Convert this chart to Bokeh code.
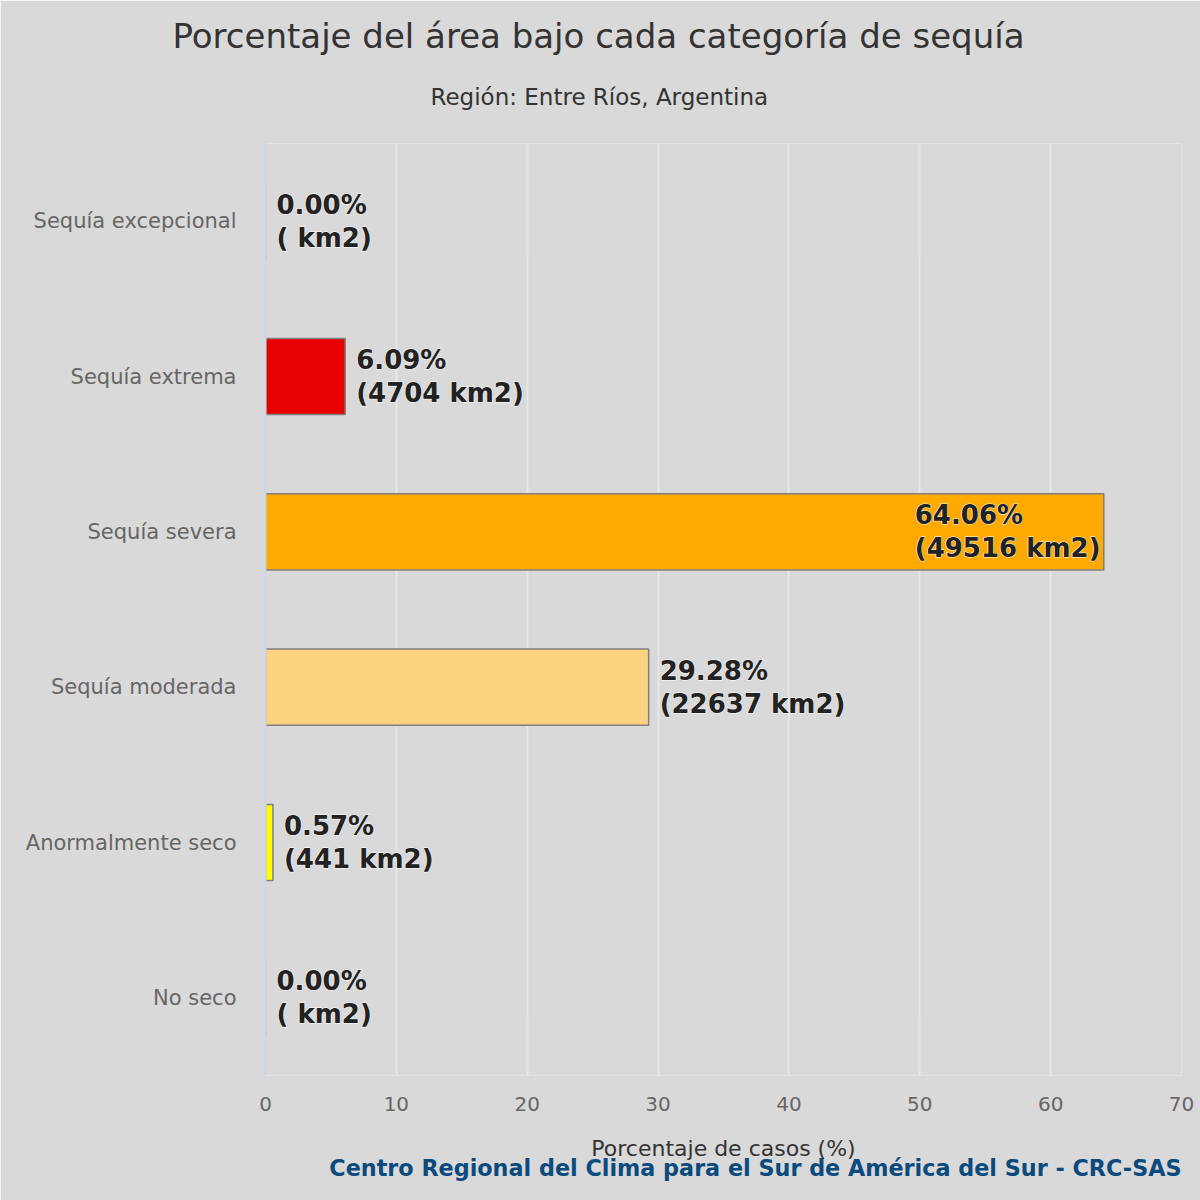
from bokeh.plotting import figure
from bokeh.models import ColumnDataSource, Title, FixedTicker, Range1d, FactorRange
from bokeh.core.properties import value
from bokeh.embed import file_html
from bokeh.resources import INLINE

categories = ["Sequía excepcional", "Sequía extrema", "Sequía severa",
              "Sequía moderada", "Anormalmente seco", "No seco"]
percent = [0.00, 6.09, 64.06, 29.28, 0.57, 0.00]
area_km2 = ["", "4704", "49516", "22637", "441", ""]
colors = ["#730000", "#e60000", "#ffaa00", "#fcd37f", "#ffff00", "#ffffff"]
x_ticks = [0, 10, 20, 30, 40, 50, 60, 70]

FONT = "DejaVu Sans"
BG = "#d9d9d9"

labels = [f"{p:.2f}%\n({a} km2)" for p, a in zip(percent, area_km2)]
x_max = x_ticks[-1]
inside = [p > x_max - 15 for p in percent]

src_out = ColumnDataSource(dict(
    cat=[c for c, i in zip(categories, inside) if not i],
    x=[p for p, i in zip(percent, inside) if not i],
    label=[l for l, i in zip(labels, inside) if not i]))
src_in = ColumnDataSource(dict(
    cat=[c for c, i in zip(categories, inside) if i],
    x=[p for p, i in zip(percent, inside) if i],
    label=[l for l, i in zip(labels, inside) if i]))
src_bar = ColumnDataSource(dict(cat=categories, x=percent, color=colors))

p = figure(width=1200, height=1200, output_backend="svg", toolbar_location=None,
           y_range=FactorRange(*list(reversed(categories)), range_padding=0),
           x_range=Range1d(0, x_max),
           min_border_left=265, min_border_right=19, min_border_top=143,
           min_border_bottom=125)

p.background_fill_color = BG
p.border_fill_color = BG
p.outline_line_color = None

p.hbar(y="cat", right="x", left=0, height=0.49, source=src_bar,
       fill_color="color", line_color="#808080", line_width=1.5)

common = dict(text_font=value(FONT), text_font_size="26px", text_font_style="bold",
              text_color="#222222", text_baseline="middle", text_line_height=1.1,
              text_align="left")
for src, off in ((src_out, 11), (src_in, -189)):
    p.text(x="x", y="cat", text="label", source=src, x_offset=off,
           text_outline_color="#ffffff", **common)
    p.text(x="x", y="cat", text="label", source=src, x_offset=off, **common)

# Titles
p.title.text = "Porcentaje del área bajo cada categoría de sequía"
p.title.align = "left"
p.title.offset = -93
p.title.text_font = FONT
p.title.text_font_size = "34px"
p.title.text_font_style = "normal"
p.title.text_color = "#333333"
p.title.standoff = -17
sub = Title(text="Región: Entre Ríos, Argentina", align="left", offset=165,
            text_font=FONT, text_font_size="23px", text_font_style="normal",
            text_color="#333333", standoff=68)
p.add_layout(sub, "above")

credits = Title(text="Centro Regional del Clima para el Sur de América del Sur - CRC-SAS",
                align="right", text_font=FONT, text_font_size="22.3px",
                text_font_style="bold", text_color="#0b4a7d", standoff=-22)
p.add_layout(credits, "below")

# Axes
xa = p.xaxis[0]
xa.ticker = FixedTicker(ticks=x_ticks)
xa.axis_line_color = None
xa.major_tick_line_color = None
xa.minor_tick_line_color = None
xa.major_label_text_font = FONT
xa.major_label_text_font_size = "20px"
xa.major_label_text_color = "#666666"
xa.major_label_standoff = 15
xa.axis_label = "Porcentaje de casos (%)"
xa.axis_label_text_font = FONT
xa.axis_label_text_font_size = "22px"
xa.axis_label_text_font_style = "normal"
xa.axis_label_text_color = "#333333"
xa.axis_label_standoff = 22

ya = p.yaxis[0]
ya.axis_line_color = "#ccd6eb"
ya.axis_line_width = 2
ya.major_tick_line_color = None
ya.minor_tick_line_color = None
ya.major_label_text_font = FONT
ya.major_label_text_font_size = "21px"
ya.major_label_text_color = "#666666"
ya.major_label_standoff = 23

p.xgrid.grid_line_color = "#e6e6e6"
p.xgrid.grid_line_width = 2
p.ygrid.grid_line_color = None

open("out.html", "w").write(file_html(p, INLINE))
